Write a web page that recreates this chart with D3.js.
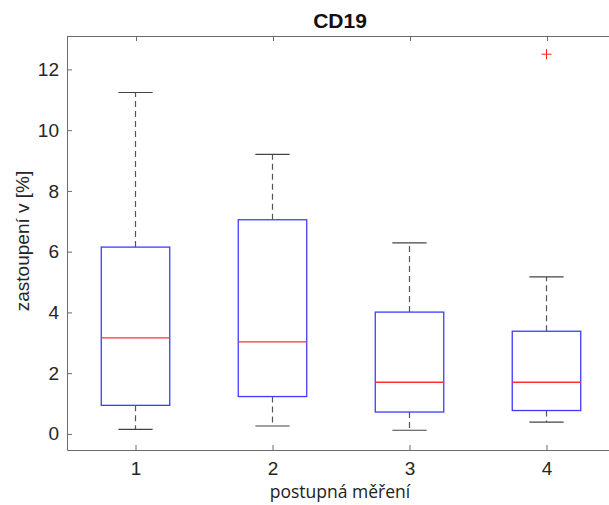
<!DOCTYPE html>
<html>
<head>
<meta charset="utf-8">
<script src="https://cdn.jsdelivr.net/npm/d3@7"></script>
<style>
  html, body { margin: 0; padding: 0; background: #fff; }
  svg { display: block; }
</style>
</head>
<body>
<svg id="chart" width="609" height="505"></svg>
<script>
// Data
const categories   = ["1", "2", "3", "4"];
const whiskerLow   = [0.15, 0.26, 0.12, 0.39];
const q1           = [0.94, 1.23, 0.72, 0.77];
const medians      = [3.16, 3.03, 1.70, 1.70];
const q3           = [6.15, 7.05, 4.01, 3.38];
const whiskerHigh  = [11.24, 9.20, 6.29, 5.17];
const outliers     = [[], [], [], [12.5]];
const yTicks       = [0, 2, 4, 6, 8, 10, 12];
const titleText    = "CD19";
const xLabelText   = "postupná měření";
const yLabelText   = "zastoupení v [%]";

const svg = d3.select("#chart");
const pLeft = 67, pRight = 615, pTop = 36, pBottom = 450;

const x = d3.scaleLinear().domain([0.5, 4.5]).range([pLeft, pRight]);
const y = d3.scaleLinear().domain([-0.53, 13.1]).range([pBottom, pTop]);

const axisColor = "#6b6b6b";
const tickFont = "Liberation Sans, Arial, sans-serif";

// top frame line
svg.append("line").attr("x1", pLeft).attr("x2", pRight).attr("y1", pTop + 0.5).attr("y2", pTop + 0.5)
  .attr("stroke", axisColor).attr("stroke-width", 1);

// bottom axis
const xAxis = d3.axisBottom(x).tickValues([1, 2, 3, 4]).tickFormat((d, i) => categories[i])
  .tickSizeInner(-5).tickSizeOuter(0).tickPadding(12);
const gx = svg.append("g").attr("transform", `translate(0,${pBottom})`).call(xAxis);
gx.select(".domain").attr("stroke", axisColor);
gx.selectAll(".tick line").attr("stroke", axisColor);
gx.selectAll(".tick text").attr("font-family", tickFont).attr("font-size", 19).attr("fill", "#262626");

// top ticks (mirror)
svg.append("g").selectAll("line").data([1, 2, 3, 4]).join("line")
  .attr("x1", d => Math.round(x(d)) + 0.5).attr("x2", d => Math.round(x(d)) + 0.5)
  .attr("y1", pTop).attr("y2", pTop + 5).attr("stroke", axisColor);

// left axis
const yAxis = d3.axisLeft(y).tickValues(yTicks).tickSizeInner(-5).tickSizeOuter(0).tickPadding(8);
const gy = svg.append("g").attr("transform", `translate(${pLeft},0)`).call(yAxis);
gy.select(".domain").attr("stroke", axisColor);
gy.selectAll(".tick line").attr("stroke", axisColor);
gy.selectAll(".tick text").attr("font-family", tickFont).attr("font-size", 19).attr("fill", "#262626");

// boxes
const boxW = 0.5, capW = 0.25;
const data = categories.map((c, i) => ({
  pos: i + 1, lo: whiskerLow[i], q1: q1[i], med: medians[i], q3: q3[i], hi: whiskerHigh[i], out: outliers[i]
}));

const bg = svg.append("g");
data.forEach(d => {
  const cx = x(d.pos);
  // whiskers
  bg.append("line").attr("x1", cx).attr("x2", cx).attr("y1", y(d.q3)).attr("y2", y(d.hi))
    .attr("stroke", "#555").attr("stroke-width", 1.2).attr("stroke-dasharray", "6,4");
  bg.append("line").attr("x1", cx).attr("x2", cx).attr("y1", y(d.q1)).attr("y2", y(d.lo))
    .attr("stroke", "#555").attr("stroke-width", 1.2).attr("stroke-dasharray", "6,4");
  // caps
  bg.append("line").attr("x1", x(d.pos - capW / 2)).attr("x2", x(d.pos + capW / 2))
    .attr("y1", y(d.hi)).attr("y2", y(d.hi)).attr("stroke", "#444").attr("stroke-width", 1.2);
  bg.append("line").attr("x1", x(d.pos - capW / 2)).attr("x2", x(d.pos + capW / 2))
    .attr("y1", y(d.lo)).attr("y2", y(d.lo)).attr("stroke", "#444").attr("stroke-width", 1.2);
  // box
  bg.append("rect").attr("x", x(d.pos - boxW / 2)).attr("y", y(d.q3))
    .attr("width", x(d.pos + boxW / 2) - x(d.pos - boxW / 2)).attr("height", y(d.q1) - y(d.q3))
    .attr("fill", "none").attr("stroke", "#3c3cff").attr("stroke-width", 1.3);
  // median
  bg.append("line").attr("x1", x(d.pos - boxW / 2)).attr("x2", x(d.pos + boxW / 2))
    .attr("y1", y(d.med)).attr("y2", y(d.med)).attr("stroke", "#ff3030").attr("stroke-width", 1.3);
  // outliers
  d.out.forEach(o => {
    const oy = y(o);
    bg.append("line").attr("x1", cx - 5).attr("x2", cx + 5).attr("y1", oy).attr("y2", oy)
      .attr("stroke", "#ff2020").attr("stroke-width", 1);
    bg.append("line").attr("x1", cx).attr("x2", cx).attr("y1", oy - 5).attr("y2", oy + 5)
      .attr("stroke", "#ff2020").attr("stroke-width", 1);
  });
});

// title
svg.append("text").attr("x", 340).attr("y", 28).attr("text-anchor", "middle")
  .attr("font-family", tickFont).attr("font-weight", "bold").attr("font-size", 21)
  .attr("fill", "#111").text(titleText);

// x label
svg.append("text").attr("x", 340).attr("y", 498).attr("text-anchor", "middle")
  .attr("font-family", "Open Sans, Noto Sans, sans-serif").attr("font-size", 17.5)
  .attr("fill", "#222").text(xLabelText);

// y label
svg.append("text").attr("transform", `translate(29,241) rotate(-90)`).attr("text-anchor", "middle")
  .attr("font-family", tickFont).attr("font-size", 19)
  .attr("fill", "#262626").text(yLabelText);
</script>
</body>
</html>
